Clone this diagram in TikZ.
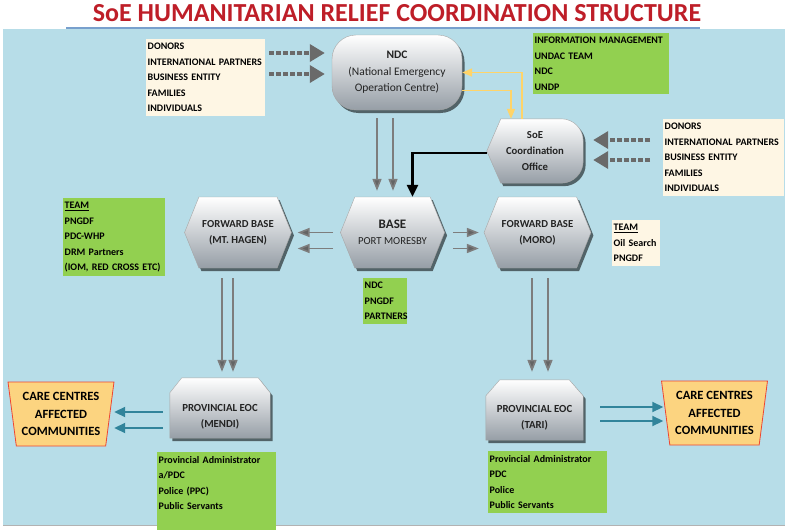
\documentclass[tikz,border=0pt]{standalone}
\usepackage{fontspec}
\setmainfont{Carlito}
\usetikzlibrary{backgrounds}
\usetikzlibrary{shapes,shadows,arrows.meta}
\hyphenpenalty=10000
\exhyphenpenalty=10000
\definecolor{panelblue}{RGB}{183,221,232}
\definecolor{titlered}{RGB}{190,30,40}
\definecolor{steelline}{RGB}{120,160,205}
\definecolor{teamgreen}{RGB}{146,208,80}
\definecolor{cream}{RGB}{254,246,228}
\definecolor{carefill}{RGB}{252,212,128}
\definecolor{careline}{RGB}{238,70,50}
\definecolor{tealline}{RGB}{49,132,155}
\definecolor{arrowgray}{RGB}{125,125,125}
\definecolor{yellowline}{RGB}{255,212,105}
\definecolor{shapegray}{RGB}{150,158,166}
\definecolor{textdark}{RGB}{35,35,35}
\tikzstyle{office} = [draw=white!65!black, top color=white, bottom color=shapegray, drop shadow={shadow xshift=2.5pt, shadow yshift=-3pt, fill=black, opacity=0.55}, text=textdark, align=center, font=\fontsize{10.7}{16}\selectfont\bfseries]
\tikzstyle{hexa} = [office, signal, signal to=west and east, signal pointer angle=136, minimum width=101pt, minimum height=71pt]
\tikzstyle{eoctext} = [text=textdark, align=center, font=\fontsize{10.8}{16.5}\selectfont\bfseries]
\tikzstyle{care} = [trapezium, trapezium angle=81, shape border rotate=180, trapezium stretches=true, minimum width=106pt, minimum height=64pt, fill=carefill, draw=careline, line width=0.8pt, align=center, font=\fontsize{12.6}{17.5}\selectfont\bfseries]
\tikzstyle{greenbox} = [anchor=north west, fill=teamgreen, align=left, inner xsep=1.5pt, inner ysep=4pt, text=black, font=\fontsize{10}{15.5}\selectfont\bfseries]
\tikzstyle{creambox} = [greenbox, fill=cream]
\tikzstyle{grayline} = [draw=arrowgray, line width=1.6pt, -{Triangle[width=9pt, length=12pt, fill=arrowgray!80!black]}]
\tikzstyle{dashline} = [draw=arrowgray!85!black, line width=3.5pt, dash pattern=on 5pt off 2pt, -{Triangle[width=17pt, length=15pt, fill=arrowgray!85!black]}]
\tikzstyle{blackline} = [draw=black, line width=2.5pt, -{Triangle[width=11pt, length=12pt]}]
\tikzstyle{yellowl} = [draw=yellowline, line width=1.6pt, -{Triangle[width=8pt, length=10pt]}]
\tikzstyle{teall} = [draw=tealline, line width=2pt, -{Triangle[width=10pt, length=11pt]}]

\begin{document}
\begin{tikzpicture}[x=1pt, y=-1pt]
	\useasboundingbox (0,0) rectangle (788,530);
	\begin{scope}[on background layer]
		\fill [panelblue] (3,29) rectangle (785,525);
		\draw [white!70!black, line width=0.6pt] (3,525.5) -- (785,525.5);
	\end{scope}
	\draw [steelline, line width=1.2pt] (66,28) -- (700,28);
	\node [text=titlered, font=\fontsize{26}{26}\selectfont\bfseries] (title) at (397,13) {SoE HUMANITARIAN RELIEF COORDINATION STRUCTURE};
	
	\node [office, rectangle, rounded corners=24pt, minimum width=130pt, minimum height=75pt, font=\fontsize{11.5}{16.5}\selectfont] (ndc) at (397,72.5) {\textbf{NDC}\\(National Emergency\\Operation Centre)};
	\node [align=center, text=textdark, minimum width=96pt, minimum height=64pt, font=\fontsize{10.7}{16}\selectfont\bfseries] (soe) at (535,151) {SoE\\Coordination\\Office};
	\begin{scope}[on background layer]
		\path [office] (soe.west) -- ([xshift=14pt]soe.north west) [rounded corners=22pt] -- (soe.north east) -- (soe.south east) [sharp corners] -- ([xshift=14pt]soe.south west) -- cycle;
	\end{scope}
	
	\node [hexa, font=\fontsize{10.7}{16}\selectfont] (base) at (392.5,232.5) {{\fontsize{13}{16}\selectfont\bfseries BASE}\\PORT MORESBY};
	\node [hexa, left of=base, node distance=154.5pt, minimum width=104pt] (hagen) {FORWARD BASE\\(MT. HAGEN)};
	\node [hexa, right of=base, node distance=145pt] (moro) {FORWARD BASE\\(MORO)};
	
	\node [minimum width=100pt, minimum height=60pt, label={[eoctext, yshift=-9pt]center:PROVINCIAL EOC\\(MENDI)}] (mendi) at (220,408) {};
	\node [minimum width=97pt, minimum height=60pt, label={[eoctext, yshift=-8pt]center:PROVINCIAL EOC\\(TARI)}] (tari) at (534.5,410) {};
	\begin{scope}[on background layer]
		\path [office] (mendi.south west) -- ([yshift=-15pt]mendi.north west) -- ([xshift=12pt]mendi.north west) -- ([xshift=-12pt]mendi.north east) -- ([yshift=-15pt]mendi.north east) -- (mendi.south east) -- cycle;
		\path [office] (tari.south west) -- ([yshift=-16pt]tari.north west) -- ([xshift=14pt]tari.north west) -- ([xshift=-14pt]tari.north east) -- ([yshift=-16pt]tari.north east) -- (tari.south east) -- cycle;
	\end{scope}
	\node [care] (carel) at (61,414) {CARE CENTRES\\AFFECTED\\COMMUNITIES};
	\node [care] (carer) at (714.5,413) {CARE CENTRES\\AFFECTED\\COMMUNITIES};
	
	\node [creambox, text width=116pt] (donl) at (146,39) {DONORS\\INTERNATIONAL PARTNERS\\BUSINESS ENTITY\\FAMILIES\\INDIVIDUALS};
	\node [creambox, text width=118pt] (donr) at (663,119) {DONORS\\INTERNATIONAL PARTNERS\\BUSINESS ENTITY\\FAMILIES\\INDIVIDUALS};
	\node [greenbox, text width=133pt] (info) at (533,33) {INFORMATION MANAGEMENT\\UNDAC TEAM\\NDC\\UNDP};
	\node [greenbox, text width=99pt] (teaml) at (63,198) {\underline{TEAM}\\PNGDF\\PDC-WHP\\DRM Partners\\(IOM, RED CROSS ETC)};
	\node [greenbox, text width=41pt] (basebox) at (363,278) {NDC\\PNGDF\\PARTNERS};
	\node [creambox, text width=45pt] (teamr) at (612,220) {\underline{TEAM}\\Oil Search\\PNGDF};
	\node [greenbox, text width=116pt, text depth=64pt] (mendibox) at (157,452) {Provincial Administrator\\a/PDC\\Police (PPC)\\Public Servants};
	\node [greenbox, text width=116pt] (taribox) at (488,451) {Provincial Administrator\\PDC\\Police\\Public Servants};
	
	\path [dashline, shorten <=4pt, shorten >=7pt] ([yshift=24.5pt]donl.east) to ([yshift=24.5pt]donl.east -| ndc.west);
	\path [dashline, shorten <=4pt, shorten >=7pt] ([yshift=3.5pt]donl.east) to ([yshift=3.5pt]donl.east -| ndc.west);
	\path [dashline, shorten <=13pt, shorten >=10pt] ([yshift=17.5pt]donr.west) to ([yshift=17.5pt]donr.west -| soe.east);
	\path [dashline, shorten <=13pt, shorten >=10pt] ([yshift=-2.5pt]donr.west) to ([yshift=-2.5pt]donr.west -| soe.east);
	
	\path [yellowl] ([xshift=-13pt]soe.north) |- (ndc.east);
	\path [yellowl] ([yshift=-18pt]ndc.east) -| ([xshift=-24pt]soe.north);
	\path [blackline] ([yshift=-2pt]soe.west) -| ([xshift=20pt]base.north);
	
	\path [grayline, shorten <=8pt, shorten >=6pt] ([xshift=-20pt]ndc.south) to ([xshift=-20pt]ndc.south |- base.north);
	\path [grayline, shorten <=8pt, shorten >=6pt] ([xshift=-4pt]ndc.south) to ([xshift=-4pt]ndc.south |- base.north);
	\path [grayline, shorten <=7pt, shorten >=6pt] (base.west) to (base.west -| hagen.east);
	\path [grayline, shorten <=7pt, shorten >=6pt] ([yshift=-16pt]base.west) to ([yshift=-16pt]base.west -| hagen.east);
	\path [grayline, shorten <=8pt, shorten >=5pt] (base.east) to (base.east -| moro.west);
	\path [grayline, shorten <=8pt, shorten >=5pt] ([yshift=-16pt]base.east) to ([yshift=-16pt]base.east -| moro.west);
	\path [grayline, shorten <=10pt, shorten >=6pt] ([xshift=-16pt]hagen.south) to ([xshift=-16pt]hagen.south |- mendi.north);
	\path [grayline, shorten <=10pt, shorten >=6pt] ([xshift=-5pt]hagen.south) to ([xshift=-5pt]hagen.south |- mendi.north);
	\path [grayline, shorten <=10pt, shorten >=8pt] ([xshift=-5.5pt]moro.south) to ([xshift=-5.5pt]moro.south |- tari.north);
	\path [grayline, shorten <=10pt, shorten >=8pt] ([xshift=10.5pt]moro.south) to ([xshift=10.5pt]moro.south |- tari.north);
	
	\path [teall, shorten <=7pt, shorten >=4pt] ([yshift=-4pt]mendi.west) to ([yshift=-4pt]mendi.west -| carel.east);
	\path [teall, shorten <=7pt, shorten >=4pt] ([yshift=-20pt]mendi.west) to ([yshift=-20pt]mendi.west -| carel.east);
	\path [teall, shorten <=17pt, shorten >=2pt] ([yshift=3pt]tari.east) to ([yshift=3pt]tari.east -| carer.west);
	\path [teall, shorten <=17pt, shorten >=2pt] ([yshift=-11pt]tari.east) to ([yshift=-11pt]tari.east -| carer.west);
\end{tikzpicture}
\end{document}
